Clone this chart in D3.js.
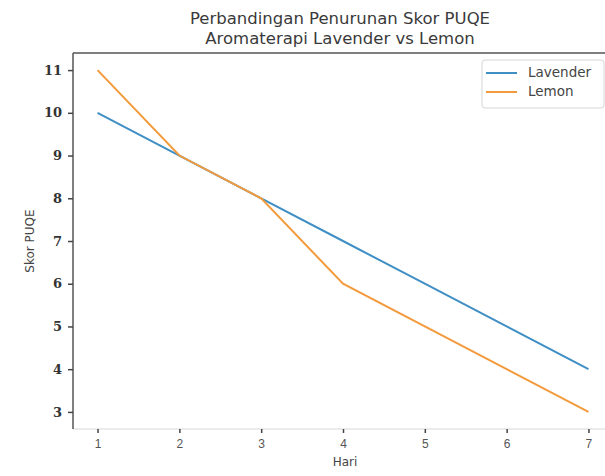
<!DOCTYPE html>
<html>
<head>
<meta charset="utf-8">
<script src="https://cdn.jsdelivr.net/npm/d3@7"></script>
<style>
  body { margin: 0; background: #fff; }
  svg { font-family: "DejaVu Sans", sans-serif; }
</style>
</head>
<body>
<svg id="chart" width="605" height="476"></svg>
<script>
const hari = [1, 2, 3, 4, 5, 6, 7];
const lavender = [10, 9, 8, 7, 6, 5, 4];
const lemon = [11, 9, 8, 6, 5, 4, 3];
const yTicks = [3, 4, 5, 6, 7, 8, 9, 10, 11];
const seriesNames = ["Lavender", "Lemon"];
const colors = ["#3f8fc4", "#f39a3c"];

const svg = d3.select("#chart");
const margens = { left: 73, right: -8, top: 53, bottom: 47 };
const width = 605 - margens.left - margens.right;
const height = 476 - margens.top - margens.bottom;

// margem de 5% como no matplotlib
const x = d3.scaleLinear().domain([0.7, 7.3]).range([0, width]);
const y = d3.scaleLinear().domain([2.6, 11.4]).range([height, 0]);

const g = svg
  .append("g")
  .attr("transform", `translate(${margens.left},${margens.top})`);

// moldura
g.append("line").attr("x1", 0).attr("x2", width).attr("y1", height).attr("y2", height)
  .attr("stroke", "#d8d8d8").attr("stroke-width", 1.2);
g.append("line").attr("x1", 0).attr("x2", width).attr("y1", 0).attr("y2", 0)
  .attr("stroke", "#555").attr("stroke-width", 1.5);
g.append("line").attr("x1", 0).attr("x2", 0).attr("y1", 0).attr("y2", height)
  .attr("stroke", "#555").attr("stroke-width", 1.5);

// eixo X
const xAxis = g.append("g")
  .attr("transform", `translate(0,${height})`)
  .call(d3.axisBottom(x).tickValues(hari).tickFormat(d3.format("d")).tickSize(4).tickPadding(6));
xAxis.select(".domain").remove();
xAxis.selectAll(".tick line").attr("stroke", "#444").attr("stroke-width", 1.5);
xAxis.selectAll(".tick text").attr("fill", "#555").style("font-size", "12px");

// eixo Y
const yAxis = g.append("g")
  .call(d3.axisLeft(y).tickValues(yTicks).tickSize(5).tickPadding(6));
yAxis.select(".domain").remove();
yAxis.selectAll(".tick line").attr("stroke", "#444").attr("stroke-width", 1.5);
yAxis.selectAll(".tick text").attr("fill", "#333").style("font-size", "13px")
  .style("font-weight", "bold").style("font-family", "'DejaVu Serif', serif");

// linhas
const line = d3.line().x((d, i) => x(hari[i])).y((d) => y(d));
[lavender, lemon].forEach((serie, i) => {
  g.append("path")
    .datum(serie)
    .attr("fill", "none")
    .attr("stroke", colors[i])
    .attr("stroke-width", 2)
    .attr("d", line);
});

// rótulos
svg.append("text").attr("x", 345).attr("y", 466).attr("text-anchor", "middle")
  .attr("fill", "#444").style("font-size", "12px").text("Hari");
svg.append("text").attr("transform", "translate(34,241) rotate(-90)")
  .attr("text-anchor", "middle").attr("fill", "#444").style("font-size", "12px")
  .text("Skor PUQE");

// título
const titulo = svg.append("text").attr("text-anchor", "middle").attr("fill", "#3a3a3a")
  .style("font-size", "16.5px");
titulo.append("tspan").attr("x", 340).attr("y", 24).text("Perbandingan Penurunan Skor PUQE");
titulo.append("tspan").attr("x", 340).attr("y", 44).text("Aromaterapi Lavender vs Lemon");

// legenda
const legend = svg.append("g").attr("transform", "translate(482,60)");
legend.append("rect").attr("width", 122).attr("height", 48).attr("rx", 3)
  .attr("fill", "#fff").attr("stroke", "#d6d6d6");
seriesNames.forEach((nome, i) => {
  legend.append("line").attr("x1", 4).attr("x2", 35)
    .attr("y1", 13 + i * 19).attr("y2", 13 + i * 19)
    .attr("stroke", colors[i]).attr("stroke-width", 2);
  legend.append("text").attr("x", 46).attr("y", 17 + i * 19)
    .attr("fill", "#444").style("font-size", "13.5px").text(nome);
});
</script>
</body>
</html>
